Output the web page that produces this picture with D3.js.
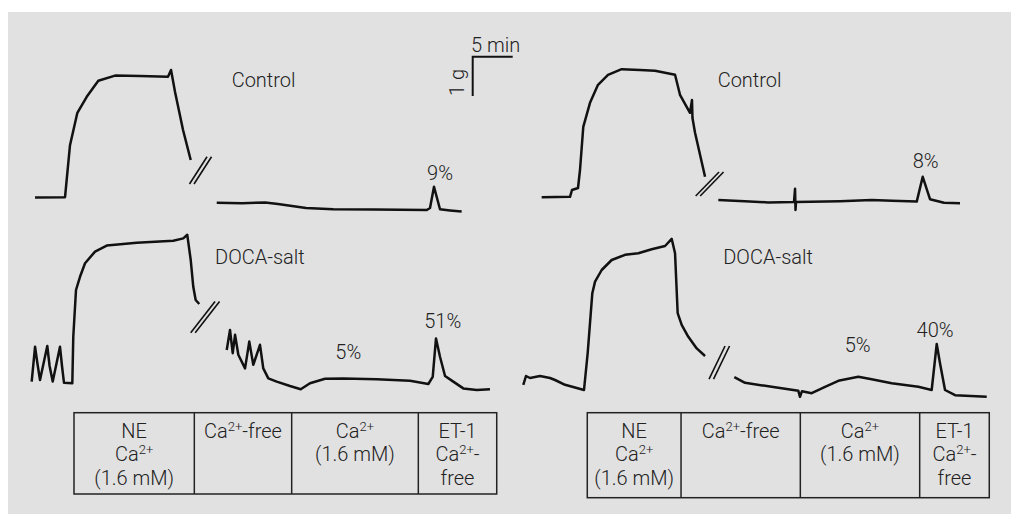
<!DOCTYPE html>
<html>
<head>
<meta charset="utf-8">
<script src="https://cdn.jsdelivr.net/npm/d3@7"></script>
<style>
  body { margin: 0; background: #fff; }
  text { font-family: Roboto, "Liberation Sans", Arial, sans-serif; font-weight: 300; fill: #222; }
</style>
</head>
<body>
<svg id="chart" width="1011" height="514"></svg>
<script>
// time in min, tension in g

const leftControl1 = [[0.63,0.06],[4.38,0.07],[5.0,1.37],[5.92,2.18],[7.09,2.58],[8.54,2.98],[10.63,3.11],[13.75,3.1],[17.25,3.08],[17.63,3.25],[18.13,2.7],[19.13,1.75],[20.09,1.0]];
const leftControl2 = [[23.34,-0.07],[26.5,-0.08],[29.4,-0.06],[31.0,-0.1],[34.5,-0.2],[37.9,-0.23],[43.0,-0.24],[49.6,-0.25],[50.0,-0.2],[50.5,0.33],[51.25,-0.23],[52.5,-0.26],[53.96,-0.29]];
const rightControl1 = [[2.71,0.07],[6.25,0.08],[6.5,0.25],[7.25,0.3],[7.5,0.75],[7.91,1.83],[8.75,2.43],[9.75,2.88],[11.0,3.13],[12.71,3.27],[15.0,3.25],[16.88,3.23],[19.38,3.13],[20.0,2.63],[21.25,2.18],[21.5,2.5],[21.56,2.05],[21.88,1.68],[23.13,0.58]];
const rightControl2 = [[24.79,0.0],[28.1,-0.03],[31.0,-0.06],[34.25,-0.05],[34.38,0.28],[34.44,-0.25],[34.5,-0.05],[40.0,-0.03],[43.96,0.0],[46.5,-0.02],[49.59,-0.04],[50.34,0.58],[51.25,0.02],[53.0,-0.07],[55.0,-0.08]];

const leftDoca1 = [[0.21,0.21],[0.63,1.08],[0.9,0.7],[1.25,0.25],[2.16,1.1],[2.45,0.6],[2.84,0.21],[3.75,1.08],[4.0,0.6],[4.25,0.18],[5.29,0.17],[5.41,1.33],[5.75,2.5],[6.25,2.83],[6.88,3.17],[8.13,3.46],[9.59,3.61],[13.34,3.68],[17.91,3.73],[19.16,3.79],[19.66,3.88],[20.09,3.25],[20.41,2.58],[20.71,2.25],[21.16,2.15]];
const leftDoca2 = [[24.59,1.0],[25.0,1.5],[25.34,0.92],[25.63,1.38],[26.04,0.88],[26.88,0.54],[27.41,1.21],[27.91,0.63],[28.75,1.13],[29.16,0.54],[29.79,0.29],[30.84,0.21],[32.5,0.1],[33.84,0.02],[35.0,0.17],[36.88,0.28],[39.16,0.29],[43.34,0.27],[47.5,0.23],[49.79,0.15],[50.34,0.33],[50.75,1.29],[51.25,0.83],[51.88,0.35],[52.91,0.21],[54.16,0.04],[55.84,0.0],[57.5,0.02]];
const rightDoca1 = [[0.41,0.13],[0.75,0.35],[1.25,0.3],[2.5,0.35],[3.75,0.3],[4.38,0.25],[5.63,0.13],[8.0,0.0],[8.46,0.92],[9.04,2.42],[9.38,2.71],[10.21,3.0],[11.46,3.25],[13.13,3.38],[14.79,3.42],[16.46,3.52],[18.13,3.6],[18.96,3.78],[19.38,3.42],[19.71,1.92],[20.21,1.63],[21.04,1.33],[22.09,1.04],[23.13,0.85]];
const rightDoca2 = [[26.79,0.32],[28.13,0.18],[31.46,0.08],[34.79,-0.02],[35.0,-0.17],[35.25,-0.03],[36.46,-0.08],[38.13,0.08],[39.79,0.23],[42.29,0.33],[43.96,0.27],[46.46,0.17],[49.79,0.08],[51.46,0.0],[52.09,1.15],[52.5,0.67],[53.13,0.0],[54.38,-0.13],[58.34,-0.17]];

// break marks: [t1, g1, t2, g2]
const leftBreaks = [[19.94,0.4,22.13,1.08],[20.09,1.43,23.13,2.21]];
const rightBreaks = [[21.96,0.1,24.88,0.7],[23.63,0.27,25.63,1.1]];

// labels: [text, t, g, anchor]
const leftTopLabels = [["Control",25.21,2.83,"start"],["9%",51.25,0.5,"middle"]];
const rightTopLabels = [["Control",24.71,2.83,"start"],["8%",50.71,0.8,"middle"]];
const leftBotLabels = [["DOCA-salt",23.13,3.15,"start"],["5%",39.79,0.77,"middle"],["51%",51.59,1.56,"middle"]];
const rightBotLabels = [["DOCA-salt",25.41,3.15,"start"],["5%",42.21,0.96,"middle"],["40%",51.88,1.32,"middle"]];

// protocol table
const leftPhaseEdges = [5.5, 20.54, 32.71, 48.54, 58.34];
const rightPhaseEdges = [8.41, 20.13, 35.04, 49.96, 58.66];
const phaseText = [["NE","Ca2+","(1.6 mM)"],["Ca2+-free"],["Ca2+","(1.6 mM)"],["ET-1","Ca2+-","free"]];

const svg = d3.select("#chart");

svg.append("rect")
    .attr("x", 8).attr("y", 12)
    .attr("width", 1003).attr("height", 502)
    .attr("fill", "#e1e1e1");

const xLeft = d3.scaleLinear().domain([0, 60]).range([30, 510]);
const xRight = d3.scaleLinear().domain([0, 60]).range([520, 1000]);
const yTop = d3.scaleLinear().domain([0, 5]).range([200, 0]);
const yBot = d3.scaleLinear().domain([0, 5]).range([390, 190]);

function drawTrace(data, x, y) {
    const line = d3.line().x(d => x(d[0])).y(d => y(d[1]));
    svg.append("path")
        .datum(data)
        .attr("d", line)
        .attr("fill", "none")
        .attr("stroke", "#111")
        .attr("stroke-width", 2.5)
        .attr("stroke-linejoin", "round");
}

drawTrace(leftControl1, xLeft, yTop);
drawTrace(leftControl2, xLeft, yTop);
drawTrace(rightControl1, xRight, yTop);
drawTrace(rightControl2, xRight, yTop);
drawTrace(leftDoca1, xLeft, yBot);
drawTrace(leftDoca2, xLeft, yBot);
drawTrace(rightDoca1, xRight, yBot);
drawTrace(rightDoca2, xRight, yBot);

function drawBreak(b, x, y) {
    [0, 4.5].forEach(off => {
        svg.append("line")
            .attr("x1", x(b[0]) + off).attr("y1", y(b[1]))
            .attr("x2", x(b[2]) + off).attr("y2", y(b[3]))
            .attr("stroke", "#111")
            .attr("stroke-width", 1.6);
    });
}

drawBreak(leftBreaks[0], xLeft, yTop);
drawBreak(leftBreaks[1], xLeft, yBot);
drawBreak(rightBreaks[0], xRight, yTop);
drawBreak(rightBreaks[1], xRight, yBot);

function drawLabels(labels, x, y) {
    svg.append("g").selectAll("text")
        .data(labels)
        .enter()
        .append("text")
        .attr("x", d => x(d[1]))
        .attr("y", d => y(d[2]))
        .attr("text-anchor", d => d[3])
        .attr("font-size", 20)
        .text(d => d[0]);
}

drawLabels(leftTopLabels, xLeft, yTop);
drawLabels(rightTopLabels, xRight, yTop);
drawLabels(leftBotLabels, xLeft, yBot);
drawLabels(rightBotLabels, xRight, yBot);

// scale bar
const bar = svg.append("g");
bar.append("path")
    .attr("d", "M512.7,56.7H472.7V96")
    .attr("fill", "none")
    .attr("stroke", "#111")
    .attr("stroke-width", 2);
bar.append("text")
    .attr("x", 471).attr("y", 51.5)
    .attr("font-size", 20)
    .text("5 min");
bar.append("text")
    .attr("transform", "translate(464,82.5) rotate(-90)")
    .attr("text-anchor", "middle")
    .attr("font-size", 20)
    .text("1 g");

// text with Ca2+ superscripts
function addRich(sel, str) {
    const parts = str.split("2+");
    parts.forEach((p, i) => {
        if (i > 0) {
            sel.append("tspan").attr("font-size", 13).attr("dy", -7).text("2+");
            sel.append("tspan").attr("dy", 7).text(p);
        } else {
            sel.append("tspan").text(p);
        }
    });
}

function drawTable(edges, x, top, bottom) {
    const g = svg.append("g");
    g.append("rect")
        .attr("x", x(edges[0])).attr("y", top)
        .attr("width", x(edges[edges.length - 1]) - x(edges[0]))
        .attr("height", bottom - top)
        .attr("fill", "none")
        .attr("stroke", "#222")
        .attr("stroke-width", 1.5);
    edges.slice(1, -1).forEach(e => {
        g.append("line")
            .attr("x1", x(e)).attr("x2", x(e))
            .attr("y1", top).attr("y2", bottom)
            .attr("stroke", "#222")
            .attr("stroke-width", 1.5);
    });
    phaseText.forEach((lines, i) => {
        const cx = (x(edges[i]) + x(edges[i + 1])) / 2;
        lines.forEach((l, j) => {
            const t = g.append("text")
                .attr("x", cx)
                .attr("y", top + 25 + j * 23.5)
                .attr("text-anchor", "middle")
                .attr("font-size", 20);
            addRich(t, l);
        });
    });
}

drawTable(leftPhaseEdges, xLeft, 412.7, 494);
drawTable(rightPhaseEdges, xRight, 412.7, 497.7);
</script>
</body>
</html>
